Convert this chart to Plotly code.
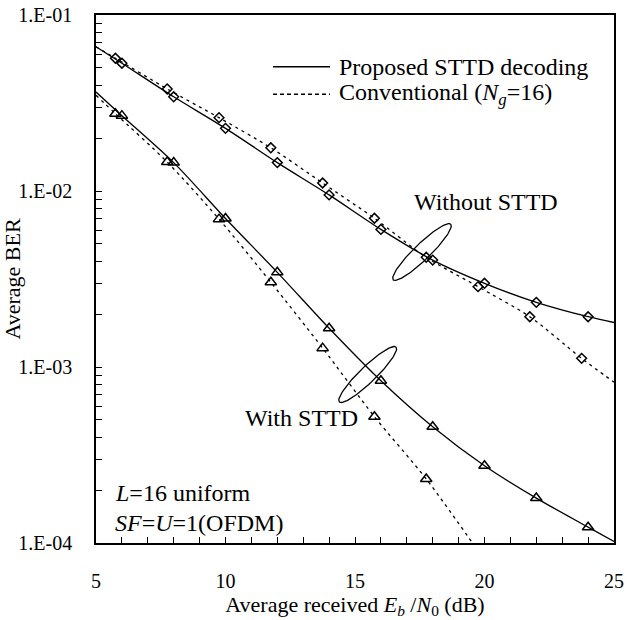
import numpy as np
import plotly.graph_objects as go

# ---------------- data ----------------
snr_prop = [6, 8, 10, 12, 14, 16, 18, 20, 22, 24]
snr_conv = [5.75, 7.75, 9.75, 11.75, 13.75, 15.75, 17.75, 19.75, 21.75, 23.75]

ber_prop_no_sttd = [0.0532, 0.0343, 0.0227, 0.0145, 0.0095, 0.00605, 0.00405, 0.00299, 0.00233, 0.00193]
ber_conv_no_sttd = [0.0568, 0.0380, 0.0261, 0.0176, 0.0111, 0.0070, 0.0042, 0.00286, 0.00193, 0.00112]
ber_prop_sttd = [0.0268, 0.0145, 0.00698, 0.00345, 0.00166, 0.000836, 0.000458, 0.000275, 0.000180, 0.000123]
snr_conv_sttd = [5.75, 7.75, 9.75, 11.75, 13.75, 15.75, 17.75]
ber_conv_sttd = [0.0275, 0.0146, 0.00692, 0.00303, 0.00128, 0.000522, 0.000231]

# curve end points (lines run to the plot edges)
prop_no_sttd_ends = ([5, 25], [0.066, 0.00179])
conv_no_sttd_ends = ([5, 25], [0.066, 0.00082])
prop_sttd_ends = ([5, 25], [0.0365, 0.000102])
conv_sttd_ends = ([5, 20.0], [0.035, 0.000080])

y_tickvals = [1e-4, 1e-3, 1e-2, 1e-1]
y_ticktext = ["1.E-04", "1.E-03", "1.E-02", "1.E-01"]
y_minor = [k * 10.0 ** d for d in (-4, -3, -2) for k in range(2, 10)]
x_tickvals = [5, 10, 15, 20, 25]

# ---------------- layout geometry ----------------
W, H = 628, 620
ML, MR, MT, MB = 96, 14, 15, 77
PW, PH = W - ML - MR, H - MT - MB
X0, X1 = 5, 25
LY0, LY1 = -4, -1

FONT = "Liberation Serif, Times New Roman, serif"
DASH = "3px,4px"


def px_to_data(px, py):
    x = X0 + (np.asarray(px) - ML) / PW * (X1 - X0)
    ly = LY1 - (np.asarray(py) - MT) / PH * (LY1 - LY0)
    return x, 10 ** ly


def curve(xs, ys, ends):
    x = [ends[0][0]] + list(xs) + [ends[0][1]]
    y = [ends[1][0]] + list(ys) + [ends[1][1]]
    return x, y


fig = go.Figure()

for xs, ys, ends, dash, sym, msize in [
    (snr_prop, ber_prop_no_sttd, prop_no_sttd_ends, "solid", "diamond-open", 7.5),
    (snr_conv, ber_conv_no_sttd, conv_no_sttd_ends, DASH, "diamond-open", 7.5),
    (snr_prop, ber_prop_sttd, prop_sttd_ends, "solid", "triangle-up-open", 10),
    (snr_conv_sttd, ber_conv_sttd, conv_sttd_ends, DASH, "triangle-up-open", 10),
]:
    cx, cy = curve(xs, ys, ends)
    fig.add_trace(go.Scatter(x=cx, y=cy, mode="lines",
                             line=dict(color="black", width=1.3, dash=dash, shape="spline", smoothing=0.8),
                             showlegend=False, hoverinfo="skip"))
    fig.add_trace(go.Scatter(x=xs, y=ys, mode="markers",
                             marker=dict(symbol=sym, size=msize, color="black",
                                         line=dict(color="black", width=1.5)),
                             showlegend=False, cliponaxis=True))

# group ellipses (pixel-space geometry)
for cxp, cyp, a, b, ang in [(422, 252, 40, 8, 44), (367.7, 374.5, 39.5, 8, 44)]:
    t = np.linspace(0, 2 * np.pi, 121)
    th = np.deg2rad(ang)
    ex = cxp + a * np.cos(t) * np.cos(th) - b * np.sin(t) * np.sin(th)
    ey = cyp - (a * np.cos(t) * np.sin(th) + b * np.sin(t) * np.cos(th))
    dx, dy = px_to_data(ex, ey)
    fig.add_trace(go.Scatter(x=dx, y=dy, mode="lines", line=dict(color="black", width=1.3),
                             showlegend=False, hoverinfo="skip"))


def paper(px, py):
    return (px - ML) / PW, (H - MB - py) / PH


shapes = []
for py, dash in [(66.7, "solid"), (94.3, "4px,3px")]:
    xa, ya = paper(273, py)
    xb, _ = paper(330, py)
    shapes.append(dict(type="line", xref="paper", yref="paper", x0=xa, x1=xb, y0=ya, y1=ya,
                       line=dict(color="black", width=1.5, dash=dash)))

annotations = []


def add_text(txt, px, py, anchor="left", size=24):
    xp, yp = paper(px, py)
    annotations.append(dict(text=txt, x=xp, y=yp, xref="paper", yref="paper",
                            xanchor=anchor, yanchor="middle", showarrow=False,
                            font=dict(family=FONT, size=size, color="black")))


add_text("Proposed STTD decoding", 337, 66.7)
add_text("Conventional (<i>N<sub>g</sub></i>=16)", 337, 94.3)
add_text("Without STTD", 486, 201.5, anchor="center")
add_text("With STTD", 301, 418, anchor="center")
add_text("<i>L</i>=16 uniform", 113, 493)
add_text("<i>SF</i>=<i>U</i>=1(OFDM)", 113, 523)

fig.update_layout(
    width=W, height=H,
    margin=dict(l=ML, r=MR, t=MT, b=MB, autoexpand=False),
    paper_bgcolor="white", plot_bgcolor="white",
    font=dict(family=FONT, size=20, color="black"),
    shapes=shapes, annotations=annotations,
    xaxis=dict(range=[X0, X1], tickvals=x_tickvals, ticks="inside", ticklen=6, tickwidth=1,
               tickcolor="black", showgrid=False, zeroline=False, showline=True, linecolor="black",
               linewidth=1.5, mirror=True, ticklabelstandoff=19,
               minor=dict(dtick=1, ticks="inside", ticklen=6, tickcolor="black", showgrid=False),
               title=dict(text="Average received <i>E<sub>b</sub></i> /<i>N</i><sub>0</sub> (dB)",
                          standoff=3, font=dict(family=FONT, size=22)),
               tickfont=dict(family=FONT, size=20)),
    yaxis=dict(type="log", range=[LY0, LY1], tickvals=y_tickvals, ticktext=y_ticktext,
               ticks="inside", ticklen=6, tickcolor="black", showgrid=False, zeroline=False,
               showline=True, linecolor="black", linewidth=1.5, mirror=True, ticklabelstandoff=18,
               minor=dict(tickvals=y_minor, ticks="inside", ticklen=6, tickcolor="black", showgrid=False),
               title=dict(text="Average BER", standoff=2, font=dict(family=FONT, size=22)),
               tickfont=dict(family=FONT, size=20)),
)

fig.write_html("out.html")
